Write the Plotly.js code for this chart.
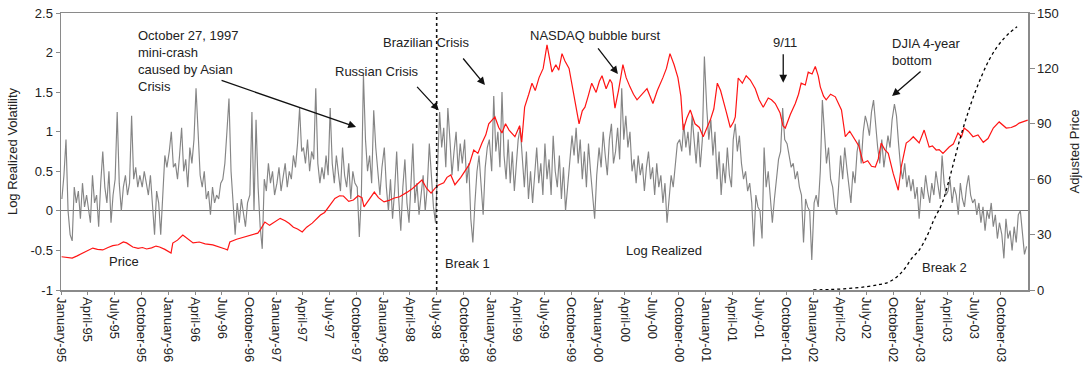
<!DOCTYPE html>
<html><head><meta charset="utf-8">
<script src="https://cdn.plot.ly/plotly-3.0.1.min.js"></script>
<style>body{margin:0;background:#fff}#chart{width:1091px;height:367px}</style>
</head><body><div id="chart"></div>
<script>
// Quarterly tick labels
const tickMonths = ['January','April','July','October'];
const tickYears = ['95','96','97','98','99','00','01','02','03'];

// Log realized volatility, weekly (13 per quarter), 1995Q1 .. 2003Q4
const logVol = [
 0.15,0.45,0.9,0.0,-0.3,-0.38,0.3,0.1,0.25,-0.1,0.35,0.05,0.2,
 0.0,-0.15,0.45,0.1,0.2,-0.2,0.35,0.75,0.3,0.1,0.5,-0.15,0.2,
 0.4,1.25,0.35,0.0,0.3,0.45,0.2,0.35,1.2,0.4,0.55,0.3,0.45,
 0.3,0.5,0.35,0.2,0.45,0.05,-0.3,0.25,0.1,-0.3,0.3,0.7,0.55,
 0.75,1.0,0.55,0.6,0.4,0.7,1.05,0.5,0.65,0.3,0.8,0.6,0.9,
 1.55,0.9,0.45,0.3,0.5,0.15,0.25,-0.05,0.3,0.1,0.2,0.15,0.35,
 0.4,0.6,1.0,1.42,0.5,0.05,-0.3,0.1,-0.15,0.15,0.0,-0.2,0.1,
 0.2,1.25,0.0,1.15,0.3,-0.2,-0.48,0.4,0.25,0.6,0.35,0.5,0.2,
 0.35,0.55,0.25,0.45,0.6,0.3,0.5,0.4,0.7,0.55,0.85,1.3,0.75,
 0.8,0.6,0.9,0.5,0.75,0.65,1.55,0.6,0.35,0.55,0.4,0.7,0.45,
 1.3,0.6,0.35,0.7,0.5,0.25,0.8,0.45,0.3,0.6,0.15,0.5,0.35,
 0.3,-0.33,0.2,1.72,0.9,0.5,0.7,0.35,1.27,0.8,0.45,0.2,0.55,
 0.8,0.3,0.0,0.4,-0.1,0.25,0.75,0.15,-0.25,0.3,0.65,0.1,-0.15,
 0.3,0.85,0.1,0.35,-0.05,0.2,0.45,0.0,0.3,0.85,0.4,0.05,-0.15,
 0.6,1.25,0.8,1.05,0.55,1.3,0.9,0.45,0.75,1.0,0.5,0.85,0.6,
 0.9,0.35,0.6,-0.1,-0.4,0.1,0.5,0.7,0.3,-0.05,0.55,0.8,0.9,
 0.5,1.45,0.75,1.0,0.55,1.5,0.7,0.4,0.9,0.35,0.75,0.25,0.6,
 0.9,1.05,0.6,0.3,0.75,0.15,0.5,0.1,0.45,0.8,0.35,0.6,0.2,
 0.85,0.4,0.65,0.2,0.95,0.5,0.3,0.7,0.15,0.55,0.0,0.3,0.6,
 0.95,0.7,1.05,0.6,0.9,0.4,0.75,0.3,0.85,0.5,0.2,-0.1,0.45,
 0.8,0.55,1.0,0.7,0.45,0.9,1.1,0.6,0.75,1.05,0.65,1.55,0.9,
 1.2,0.8,1.0,0.5,0.65,0.35,0.7,0.45,0.6,0.25,0.55,0.75,0.4,
 0.55,0.2,0.6,0.3,0.45,0.1,0.35,-0.15,0.2,0.45,0.3,0.6,0.85,
 0.9,0.75,1.1,0.8,1.0,0.7,1.2,0.85,0.6,1.0,0.55,0.9,1.95,
 1.3,0.9,1.15,0.7,1.0,0.4,0.75,0.2,0.6,0.35,0.8,0.45,0.3,
 0.9,1.1,0.75,0.95,0.6,0.4,0.5,0.25,0.35,0.1,-0.45,0.2,0.05,
 0.0,-0.35,0.8,0.3,0.5,0.2,-0.15,0.15,0.4,0.65,0.75,1.3,0.9,
 0.85,0.7,0.55,0.6,0.4,0.5,0.3,0.2,-0.4,0.15,0.05,0.0,-0.62,
 0.1,0.2,0.05,0.5,1.4,1.05,0.6,0.8,0.4,0.3,0.05,-0.05,0.45,
 0.7,0.4,0.8,0.55,0.3,0.1,0.5,0.35,0.75,0.9,0.6,1.0,1.2,
 1.1,0.95,1.25,1.4,1.05,0.8,0.6,0.9,0.55,0.75,0.95,0.8,1.15,
 1.35,1.2,0.85,0.55,0.4,0.6,0.3,0.45,0.25,0.4,0.15,0.3,-0.1,
 0.3,0.15,0.45,0.25,0.1,0.35,0.2,0.5,0.3,0.15,0.7,0.35,0.2,
 0.25,0.4,0.1,0.3,0.2,-0.05,0.35,0.15,0.05,0.3,0.45,0.2,0.1,
 0.15,-0.05,0.1,-0.15,0.05,-0.25,0.0,-0.1,0.1,-0.2,-0.05,-0.35,-0.15,
 -0.3,-0.6,-0.1,-0.35,-0.25,-0.5,-0.2,-0.4,-0.05,0.0,-0.3,-0.55,-0.45
];

// Adjusted price (right axis)
const priceDates = ['1995-01-03','1995-01-20','1995-02-08','1995-02-25','1995-03-15','1995-04-01','1995-04-19','1995-05-05','1995-05-23','1995-06-10','1995-06-26','1995-07-15','1995-08-01','1995-08-12','1995-09-02','1995-09-20','1995-10-05','1995-10-19','1995-11-05','1995-11-20','1995-12-02','1995-12-20','1996-01-10','1996-01-16','1996-02-01','1996-02-19','1996-03-05','1996-03-25','1996-04-15','1996-05-05','1996-05-31','1996-06-20','1996-07-12','1996-07-20','1996-07-28','1996-08-20','1996-09-10','1996-09-24','1996-10-15','1996-10-31','1996-11-10','1996-11-24','1996-12-10','1996-12-28','1997-01-15','1997-02-01','1997-02-15','1997-03-01','1997-03-15','1997-03-31','1997-04-15','1997-05-04','1997-05-20','1997-06-01','1997-06-15','1997-06-28','1997-07-10','1997-07-20','1997-08-05','1997-08-18','1997-09-05','1997-09-21','1997-10-07','1997-10-20','1997-10-27','1997-11-12','1997-12-01','1997-12-15','1998-01-03','1998-01-20','1998-02-07','1998-02-25','1998-03-10','1998-03-23','1998-04-10','1998-04-25','1998-05-12','1998-05-28','1998-06-12','1998-06-25','1998-07-08','1998-07-25','1998-08-05','1998-08-18','1998-09-01','1998-09-21','1998-10-08','1998-10-20','1998-11-04','1998-11-18','1998-12-02','1998-12-15','1998-12-25','1999-01-15','1999-01-28','1999-02-08','1999-02-20','1999-03-04','1999-03-24','1999-04-09','1999-04-16','1999-04-26','1999-05-10','1999-05-21','1999-06-01','1999-06-14','1999-06-28','1999-07-11','1999-07-20','1999-07-28','1999-08-10','1999-08-20','1999-08-31','1999-09-10','1999-09-24','1999-10-05','1999-10-14','1999-10-28','1999-11-08','1999-11-17','1999-11-28','1999-12-10','1999-12-25','2000-01-05','2000-01-14','2000-01-28','2000-02-10','2000-02-17','2000-02-27','2000-03-10','2000-03-25','2000-04-05','2000-04-18','2000-04-30','2000-05-12','2000-05-28','2000-06-15','2000-07-05','2000-07-20','2000-08-08','2000-08-20','2000-09-01','2000-09-15','2000-09-28','2000-10-08','2000-10-16','2000-10-28','2000-11-09','2000-11-25','2000-12-10','2000-12-23','2001-01-05','2001-01-16','2001-01-28','2001-02-09','2001-02-20','2001-03-01','2001-03-12','2001-03-25','2001-04-05','2001-04-11','2001-04-21','2001-05-05','2001-05-18','2001-06-01','2001-06-18','2001-07-01','2001-07-15','2001-08-01','2001-08-12','2001-08-25','2001-09-10','2001-09-20','2001-09-28','2001-10-15','2001-11-01','2001-11-12','2001-11-21','2001-12-05','2001-12-15','2001-12-28','2002-01-08','2002-01-18','2002-01-25','2002-02-05','2002-02-14','2002-03-01','2002-03-17','2002-04-07','2002-04-20','2002-05-05','2002-05-24','2002-06-05','2002-06-20','2002-07-05','2002-07-18','2002-07-31','2002-08-10','2002-08-20','2002-09-01','2002-09-13','2002-09-30','2002-10-10','2002-10-17','2002-10-27','2002-11-05','2002-11-13','2002-11-25','2002-12-07','2002-12-27','2003-01-13','2003-01-30','2003-02-10','2003-02-23','2003-03-05','2003-03-18','2003-04-08','2003-04-22','2003-05-08','2003-05-20','2003-05-29','2003-06-12','2003-06-28','2003-07-15','2003-08-02','2003-08-18','2003-09-05','2003-09-25','2003-10-08','2003-10-19','2003-11-05','2003-11-20','2003-12-02','2003-12-15','2003-12-31'];
const priceVals = [18,17.5,17.3,18.5,20,21.5,22.7,22,21.7,23,24,24.5,26,25.5,23.3,22.5,23,22.2,22.8,23.8,23.3,22,20,25.4,27,29.8,28,25.5,26,25,24.4,23.5,22.2,21.7,26,27.5,28.5,29.2,30,30.8,33,36.8,35,37,38.8,37.5,36,34,33,31.4,34,36.2,38.5,40.6,42,44.7,47,49.6,51,50.9,48,48.7,51,50,45,49,53,50,47.7,48.5,49.8,50.5,52,53,55,57,59.6,55,52.5,55,56.9,58,61,62.3,57,61,65,68,75.8,74,79.6,84,90,93.7,88,85,90,86.6,83,89,80,99,106,112,108,115,120,132.7,125,118,122,119,128,124,120,110,101,90,97,99,105,112,107,113,116,109,114,112,98.5,108,122,115,110,106,103,106,109,101,108,115,120,128,122,115,105,86.6,93,97.5,90,88,83,88,92,98,112,108,103,96,88,91,93.7,114.8,112,116,113.7,109,103,99,104,103,101,96,89,87.7,95,101,106,112,111,118,117,121,116,110,105,103,106,104.6,97.5,83,86,81,78,68.8,70,67,66.6,71,79.6,76,74,63,58,54,66.6,73,79.6,81,83,79.6,86.6,77.4,78,75.8,76,74,77.4,79,85,83,87.7,86,83,84,80,82,87.7,91,89,87.7,88,89,90.4,91,92];

// Break 2 statistic (right axis)
const breakDates = ['2002-01-01','2002-03-01','2002-05-01','2002-07-01','2002-08-15','2002-09-15','2002-10-15','2002-11-10','2002-12-01','2002-12-27','2003-01-25','2003-02-15','2003-03-15','2003-04-05','2003-04-25','2003-05-15','2003-06-05','2003-06-28','2003-07-25','2003-08-20','2003-09-15','2003-10-10','2003-11-01','2003-11-25'];
const breakVals = [0,0.3,0.8,1.8,3,4.3,7.5,12,17,21.6,30,38,47,58,70,82,93,104,115,124,131,136,139.5,142.5];

const break1Date = '1998-07-01';

// ---- build ----
const volDates = logVol.map((v, i) => {
  const q = Math.floor(i / 13), w = i % 13;
  const d = new Date(Date.UTC(1995 + Math.floor(q / 4), (q % 4) * 3, 4 + 7 * w));
  return d.toISOString().slice(0, 10);
});
const tickVals = [], tickText = [];
tickYears.forEach((y, yi) => tickMonths.forEach((m, mi) => {
  tickVals.push((1995 + yi) + '-' + String(mi * 3 + 1).padStart(2, '0') + '-01');
  tickText.push(m + '-' + y);
}));

const FONT = 'Liberation Sans, Arial, sans-serif';
const traces = [
  {x: volDates, y: logVol, type: 'scatter', mode: 'lines', line: {color: '#858585', width: 1.15}, yaxis: 'y', hoverinfo: 'skip'},
  {x: priceDates, y: priceVals, type: 'scatter', mode: 'lines', line: {color: '#ff1414', width: 1.2}, yaxis: 'y2', hoverinfo: 'skip'},
  {x: breakDates, y: breakVals, type: 'scatter', mode: 'lines', line: {color: '#000', width: 1.3, dash: 'dot', shape: 'spline'}, yaxis: 'y2', hoverinfo: 'skip'}
];

const txt = (text, x, y, extra) => Object.assign({text, x, y, xref: 'x', yref: 'y', showarrow: false, font: {size: 13, color: '#222', family: FONT}}, extra || {});
const arr = (x, y, ax, ay) => ({text: '', x, y, xref: 'x', yref: 'y', showarrow: true, arrowhead: 2, arrowsize: 1.2, arrowwidth: 1.3, arrowcolor: '#111', ax, ay});

const annotations = [
  txt('October 27, 1997<br>mini-crash<br>caused by Asian<br>Crisis', '1995-09-13', 2.33, {xanchor: 'left', yanchor: 'top', align: 'left'}),
  txt('Russian Crisis', '1997-12-10', 1.755),
  txt('Brazilian Crisis', '1998-05-26', 2.13),
  txt('NASDAQ bubble burst', '1999-12-20', 2.22),
  txt('9/11', '2001-09-28', 2.13),
  txt('DJIA 4-year<br>bottom', '2002-09-19', 2.24, {xanchor: 'left', yanchor: 'top', align: 'left'}),
  txt('Price', '1995-08-02', -0.646),
  txt('Log Realized', '2000-08-12', -0.495),
  txt('Break 1', '1998-10-15', -0.66),
  txt('Break 2', '2003-03-22', -0.72),
  arr('1997-09-30', 1.06, -136, -47),
  arr('1998-07-08', 1.27, -23, -25),
  arr('1998-12-12', 1.59, -23, -28),
  arr('2000-03-08', 1.73, -21, -27),
  arr('2001-09-21', 1.62, 0, -30),
  arr('2002-09-26', 1.45, 30, -26)
];

const layout = {
  width: 1091, height: 367,
  margin: {l: 61, r: 63, t: 13, b: 77, pad: 0},
  paper_bgcolor: '#fff', plot_bgcolor: '#fff',
  font: {family: FONT, size: 13, color: '#222'},
  showlegend: false,
  xaxis: {
    type: 'date', range: ['1995-01-01', '2004-01-01'],
    tickvals: tickVals, ticktext: tickText, tickangle: 90,
    tickfont: {size: 13, color: '#222'},
    showgrid: false, showline: true, linecolor: '#8a8a8a', linewidth: 1.5, mirror: true,
    ticks: 'outside', ticklen: 3, tickcolor: '#8a8a8a', zeroline: false
  },
  yaxis: {
    range: [-1, 2.5], tickvals: [-1, -0.5, 0, 0.5, 1, 1.5, 2, 2.5],
    ticktext: ['-1', '-0.5', '0', '0.5', '1', '1.5', '2', '2.5'],
    title: {text: 'Log Realized Volatility', font: {size: 13, color: '#222'}, standoff: 10},
    showgrid: false, showline: true, linecolor: '#8a8a8a', linewidth: 1.5,
    ticks: 'outside', ticklen: 4, tickcolor: '#8a8a8a',
    zeroline: true, zerolinecolor: '#7a7a7a', zerolinewidth: 1
  },
  yaxis2: {
    range: [0, 150], tickvals: [0, 30, 60, 90, 120, 150],
    overlaying: 'y', side: 'right',
    title: {text: 'Adjusted Price', font: {size: 13, color: '#222'}, standoff: 12},
    showgrid: false, showline: true, linecolor: '#8a8a8a', linewidth: 1.5,
    ticks: 'outside', ticklen: 5, tickcolor: '#8a8a8a', zeroline: false
  },
  shapes: [
    {type: 'line', xref: 'x', yref: 'paper', x0: break1Date, x1: break1Date, y0: 0, y1: 1,
     line: {color: '#111', width: 1.6, dash: 'dot'}}
  ],
  annotations
};

Plotly.newPlot('chart', traces, layout, {displayModeBar: false, staticPlot: true});
</script></body></html>
